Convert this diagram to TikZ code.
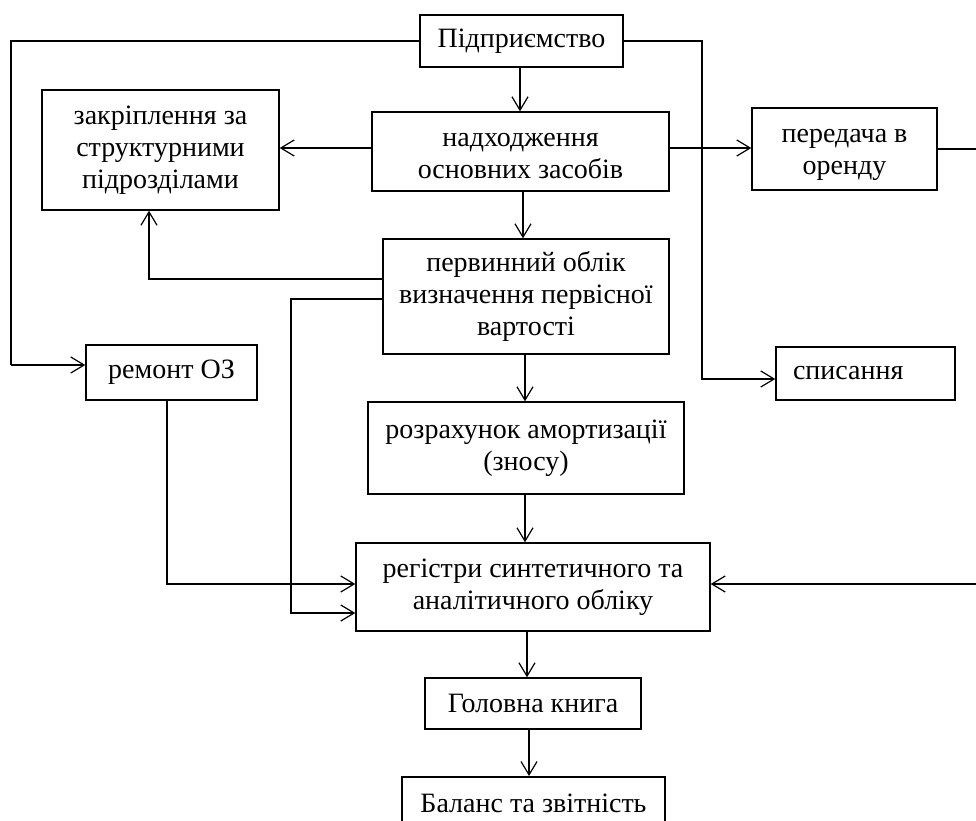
\documentclass[tikz,border=0pt]{standalone}
\usepackage{fontspec}
\setmainfont{Liberation Serif}
\usetikzlibrary{arrows.meta,calc}
\begin{document}
\begin{tikzpicture}[x=0.75pt,y=-0.75pt,
  box/.style={draw,line width=1.1pt,align=center,inner sep=0pt,
    font=\fontsize{21}{24}\selectfont},
  txt/.style={align=center,inner sep=0pt,font=\fontsize{21}{24}\selectfont},
  conn/.style={line width=0.9pt},
  thickconn/.style={line width=1.8pt},
  arr/.style={-{Straight Barb[length=10pt,width=12pt,line width=0.9pt]}}
]
\useasboundingbox (0,0) rectangle (976,821);
\clip (0,0) rectangle (976,821);
\fill[white] (0,0) rectangle (976,821);

\node[box,minimum width=203*0.75pt,minimum height=52*0.75pt,line width=1.5pt] (pid) at (521.5,41) {Підприємство};
\node[box,minimum width=297*0.75pt,minimum height=79*0.75pt] (nad) at (520.5,151.5) {};
\node[txt] (nadT) at (520.5,156) {надходження\\основних засобів};
\node[box,minimum width=237*0.75pt,minimum height=120*0.75pt] (zak) at (160.5,150) {закріплення за\\структурними\\підрозділами};
\node[box,minimum width=185*0.75pt,minimum height=82*0.75pt] (per) at (844.5,149) {};
\node[txt] (perT) at (844.5,155) {передача в\\оренду};
\node[box,minimum width=286*0.75pt,minimum height=115*0.75pt] (perv) at (526,296.5) {первинний облік\\визначення первісної\\вартості};
\node[box,minimum width=171*0.75pt,minimum height=55*0.75pt] (rem) at (171.5,372.5) {ремонт ОЗ};
\node[box,minimum width=179*0.75pt,minimum height=53*0.75pt,text width=145*0.75pt,align=left] (spys) at (865.5,373.5) {\hspace*{0pt}списання};
\node[box,minimum width=316*0.75pt,minimum height=92*0.75pt] (rozr) at (526,448) {розрахунок амортизації\\(зносу)};
\node[box,minimum width=354*0.75pt,minimum height=88*0.75pt] (reg) at (533,587) {регістри синтетичного та\\аналітичного обліку};
\node[box,minimum width=216*0.75pt,minimum height=51*0.75pt] (hol) at (533,703.5) {Головна книга};
\node[box,minimum width=263*0.75pt,minimum height=52*0.75pt,line width=1.5pt] (bal) at (533.5,803) {Баланс та звітність};

% helper coordinates
\coordinate (L1) at (11,41);
\coordinate (R1) at (702,41);
\coordinate (E1) at (990,149);
\coordinate (P1) at (149,279);
\coordinate (P2) at (291,299);
\coordinate (M1) at (167,584);
\coordinate (remin) at ($(rem.west)+(0,-7.5)$);
\coordinate (spin) at ($(spys.west)+(0,5.5)$);
\coordinate (pidout) at ($(pid.south)+(-1.5,0)$);
\coordinate (nadW) at ($(nad.west)+(0,-3.5)$);
\coordinate (nadE) at ($(nad.east)+(0,-3.5)$);
\coordinate (nadS) at ($(nad.south)+(2.5,0)$);
\coordinate (regE) at ($(reg.east)+(0,-3)$);
\coordinate (pervW1) at ($(perv.west)+(0,-17.5)$);
\coordinate (pervW2) at ($(perv.west)+(0,2.5)$);
\coordinate (regW2) at ($(reg.west)+(0,26)$);
\coordinate (remS) at ($(rem.south)+(-4.5,0)$);
\coordinate (pervS) at ($(perv.south)+(-1,0)$);
\coordinate (rozrS) at ($(rozr.south)+(-1,0)$);
\coordinate (regS) at ($(reg.south)+(-6,0)$);
\coordinate (holS) at ($(hol.south)+(-4,0)$);

% Підприємство -> ремонт ОЗ
\draw[thickconn] (pid.west) -- (L1) -- (L1 |- remin);
\draw[conn,arr] (L1 |- remin) -- (remin);
% Підприємство -> списання
\draw[conn,arr] (pid.east) -- (R1) |- (spin);
% Підприємство -> надходження
\draw[conn,arr] (pidout) -- (pidout |- nad.north);
% надходження -> закріплення
\draw[conn,arr] (nadW) -- (nadW -| zak.east);
% надходження -> передача
\draw[conn,arr] (nadE) -- (nadE -| per.west);
% передача -> регістри
\draw[conn,arr] (per.east) -- (E1) |- (regE);
% надходження -> первинний
\draw[conn,arr] (nadS) -- (nadS |- perv.north);
% первинний -> закріплення
\draw[thickconn] (pervW1) -- (P1) -- ($(P1)+(0,-30)$);
\draw[conn,arr] ($(P1)+(0,-30)$) -- (P1 |- zak.south);
% первинний -> регістри
\draw[conn,arr] (pervW2) -- (P2) |- (regW2);
% ремонт -> регістри
\draw[thickconn] (remS) -- (M1) -- ($(M1)+(60,0)$);
\draw[conn,arr] ($(M1)+(60,0)$) -- (M1 -| reg.west);
% первинний -> розрахунок
\draw[conn,arr] (pervS) -- (pervS |- rozr.north);
% розрахунок -> регістри
\draw[conn,arr] (rozrS) -- (rozrS |- reg.north);
% регістри -> Головна книга
\draw[conn,arr] (regS) -- (regS |- hol.north);
% Головна книга -> Баланс
\draw[thickconn] (holS) -- ($(holS)+(0,30)$);
\draw[conn,arr] ($(holS)+(0,30)$) -- (holS |- bal.north);
\end{tikzpicture}
\end{document}
